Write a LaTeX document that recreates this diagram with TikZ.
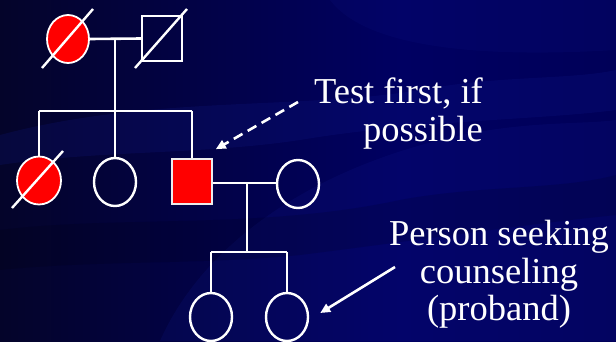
\documentclass[tikz,border=0pt]{standalone}
\usepackage{fontspec}
\setmainfont{Liberation Serif}
\usetikzlibrary{shapes.geometric,arrows.meta,calc}

\definecolor{bgdark}{RGB}{4,4,42}
\definecolor{bgmid}{RGB}{0,0,98}
\definecolor{bgright}{RGB}{0,0,88}
\definecolor{swoosh}{RGB}{20,30,150}
\definecolor{affected}{RGB}{255,0,0}

\tikzset{
  line/.style={draw=white, line width=2.6pt},
  female/.style={ellipse, draw=white, line width=2.4pt, inner sep=0pt,
                 minimum width=42pt, minimum height=48pt},
  male/.style={rectangle, draw=white, line width=2.2pt, inner sep=0pt,
               minimum width=40pt, minimum height=45pt},
  affectedF/.style={female, fill=affected, line width=1.8pt},
  affectedM/.style={male, fill=affected, draw=white!85!gray, line width=1.6pt},
  deceased/.style={draw=white, line width=2.4pt},
  label/.style={text=white, inner sep=0pt, font=\fontsize{36.5}{37.5}\selectfont},
  pointer/.style={draw=white, line width=2.6pt,
                  -{Triangle[length=10pt,width=9pt]}},
}

\begin{document}
\begin{tikzpicture}[x=1pt, y=-1pt]
  % background: navy with soft swooshes
  \useasboundingbox (0,0) rectangle (616,341);
  \shade[left color=bgdark, right color=bgmid] (0,0) rectangle (400,341);
  \shade[left color=bgmid, right color=bgright] (400,0) rectangle (616,341);
  \fill[swoosh, opacity=0.18]
    (0,135) .. controls (150,95) and (300,110) .. (420,90)
    .. controls (500,75) and (570,80) .. (616,70) -- (616,110)
    .. controls (540,120) and (420,120) .. (300,140)
    .. controls (200,155) and (100,150) .. (0,165) -- cycle;
  \fill[swoosh, opacity=0.16]
    (160,341) .. controls (200,250) and (300,175) .. (440,140)
    .. controls (520,120) and (580,125) .. (616,120) -- (616,341) -- cycle;
  \fill[swoosh, opacity=0.12]
    (330,0) .. controls (360,40) and (450,60) .. (616,50) -- (616,0) -- cycle;
  \fill[black, opacity=0.12]
    (0,230) .. controls (120,215) and (260,230) .. (400,200)
    .. controls (480,185) and (560,190) .. (616,175) -- (616,215)
    .. controls (520,225) and (420,240) .. (300,255)
    .. controls (200,265) and (100,260) .. (0,270) -- cycle;

  % first generation
  \node[affectedF] (gm) at (68,39) {};
  \node[male] (gf) at (162,38.5) {};
  \draw[deceased] ($(gm)+(-26,29)$) -- ($(gm)+(25,-30)$);
  \draw[deceased] ($(gf)+(-27,29.5)$) -- ($(gf)+(25,-29.5)$);
  \coordinate (m1) at (115,38.5);
  \coordinate (s1) at (115,111);
  \draw[line] (gm.east) -- (gf.west);
  \draw[line] (m1) -- (s1);

  % second generation
  \node[affectedF, minimum width=44pt] (aunt) at (39,180.5) {};
  \node[female] (sister) at (115,182) {};
  \node[affectedM] (father) at (192,181.5) {};
  \node[female] (mother) at (298,184) {};
  \draw[deceased] ($(aunt)+(-27,27.5)$) -- ($(aunt)+(24,-29.5)$);
  \draw[line] (aunt.north |- s1) -- (father.north |- s1);
  \draw[line] (aunt.north |- s1) -- (aunt.north);
  \draw[line] (s1) -- (sister.north);
  \draw[line] (father.north |- s1) -- (father.north);
  \coordinate (m2) at (247,183);
  \coordinate (s2) at (247,252);
  \draw[line] (father.east |- m2) -- (mother.west |- m2);
  \draw[line] (m2) -- (s2);

  % third generation
  \node[female] (child1) at (211,317) {};
  \node[female] (proband) at (287,317) {};
  \draw[line] (child1.north |- s2) -- (proband.north |- s2);
  \draw[line] (child1.north |- s2) -- (child1.north);
  \draw[line] (proband.north |- s2) -- (proband.north);

  % annotations
  \node[label, align=right, anchor=north east] (test) at (483,78)
    {Test first, if\\possible};
  \coordinate (testfrom) at (298,102);
  \draw[pointer, dash pattern=on 10pt off 6pt] (testfrom) -- ($(father.north east)+(3,-9)$);

  \node[label, align=center, anchor=north] (seek) at (499,220)
    {Person seeking\\counseling\\(proband)};
  \coordinate (seekfrom) at (395,267);
  \draw[pointer] (seekfrom) -- ($(proband.east)+(11,-4)$);
\end{tikzpicture}
\end{document}
